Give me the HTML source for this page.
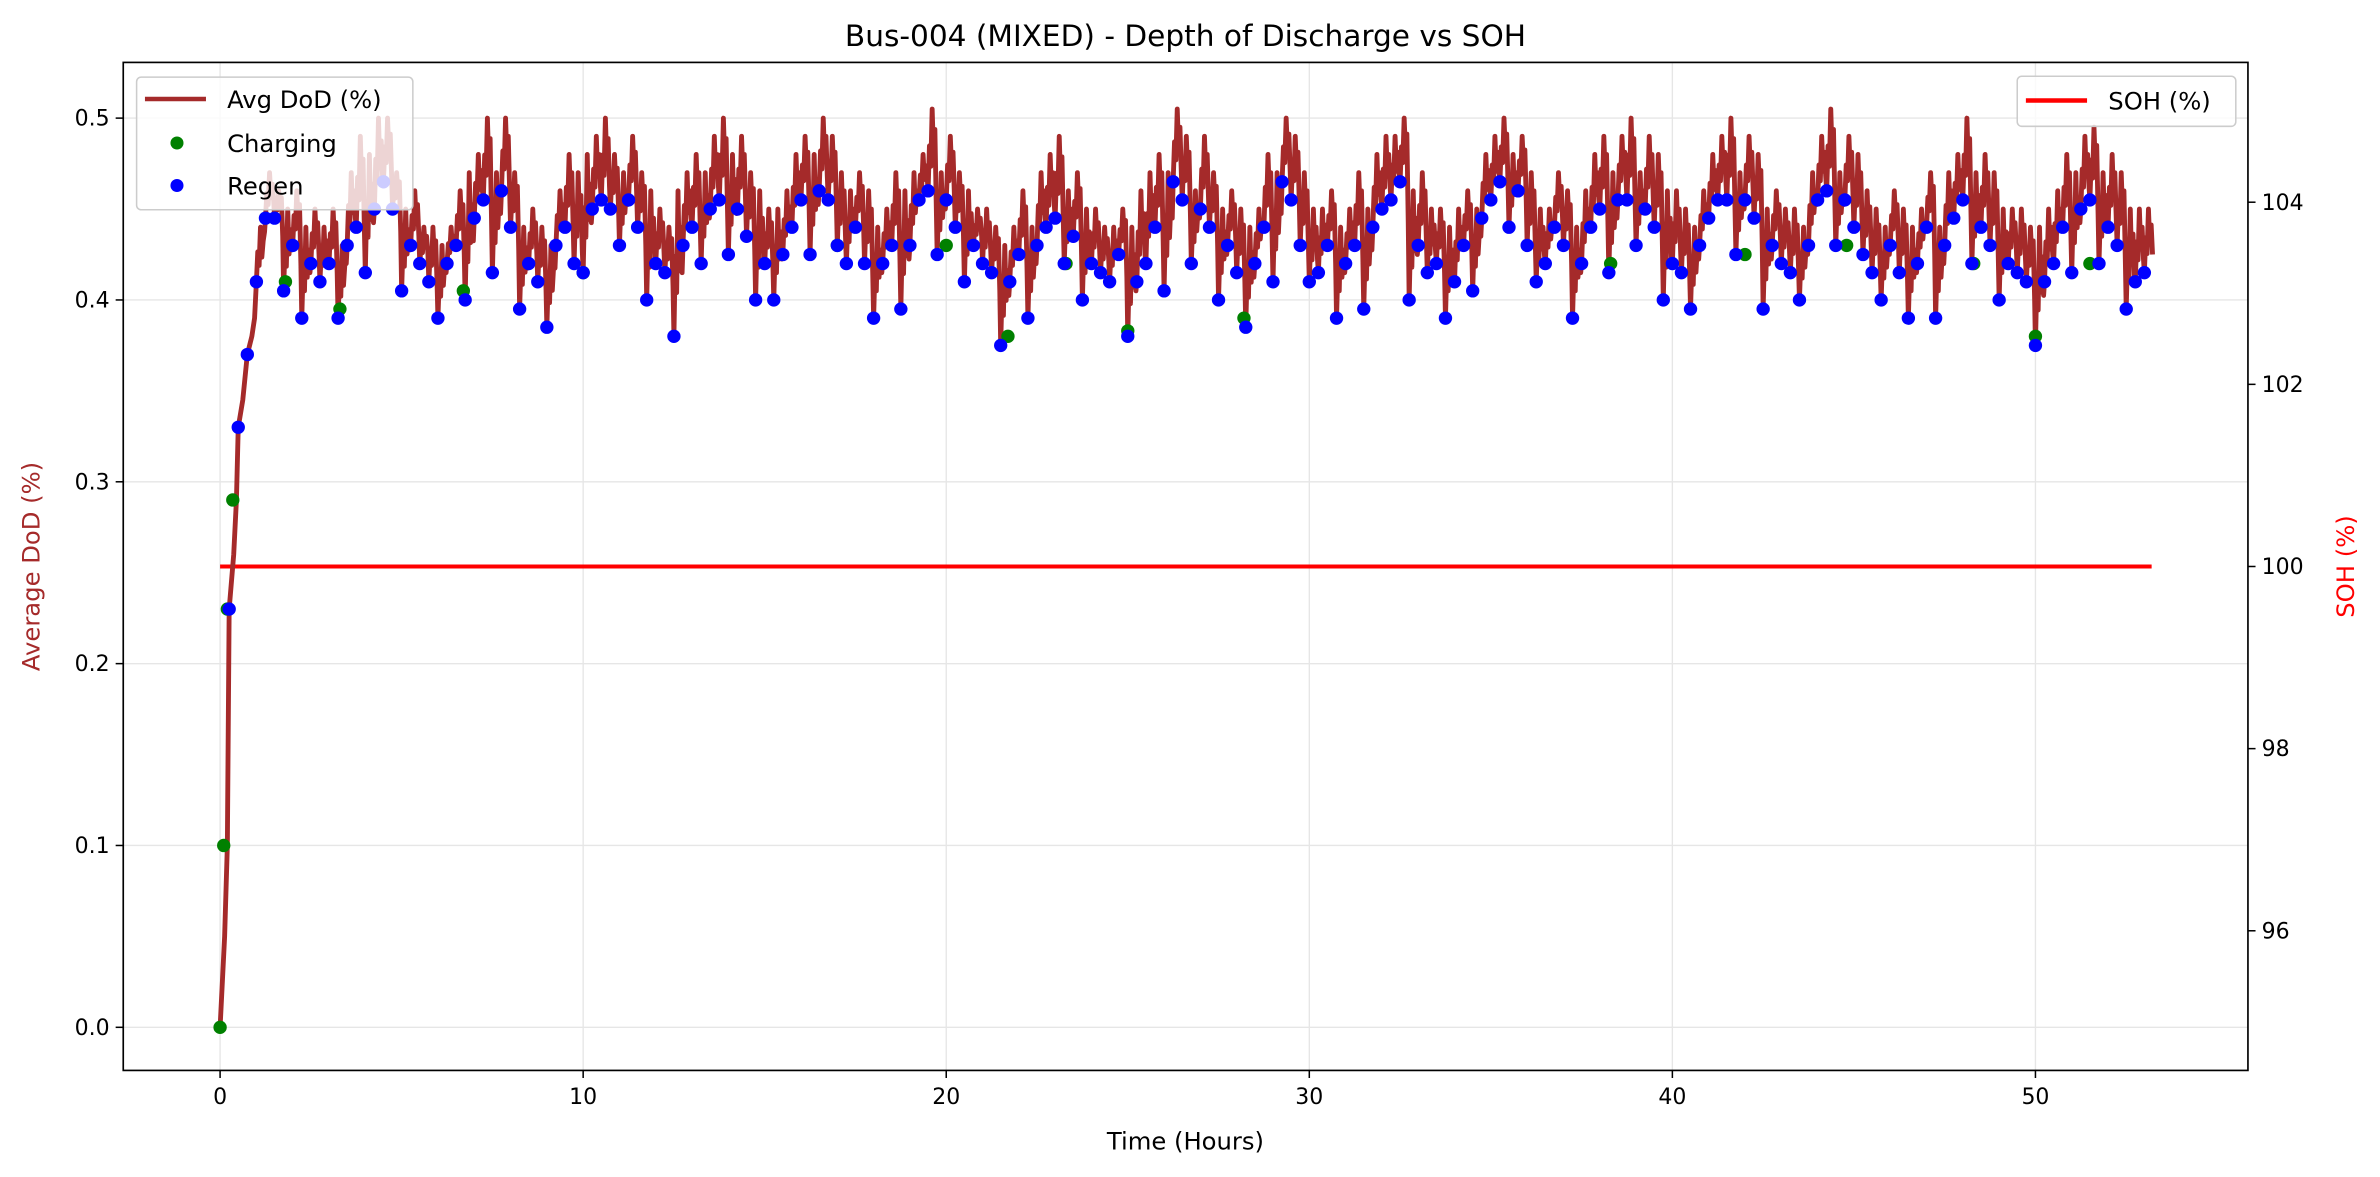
<!DOCTYPE html>
<html><head><meta charset="utf-8"><style>
html,body{margin:0;padding:0;background:#fff;}
svg{display:block;font-family:"DejaVu Sans","Liberation Sans",sans-serif;}
</style></head><body>
<svg id="chart" width="2380" height="1177" viewBox="0 0 1568 775" xmlns="http://www.w3.org/2000/svg">
<rect x="0" y="0" width="1568" height="775" fill="#fff"/>
<g id="grid"></g>
<g id="soh"></g>
<g id="dod"></g>
<g id="chg"></g>
<g id="reg"></g>
<rect x="81.2" y="40.9" width="1399.8" height="664.1" fill="none" stroke="#000" stroke-width="1.1"/>
<g id="axes"></g>
<text x="781" y="30" font-size="19.5" text-anchor="middle">Bus-004 (MIXED) - Depth of Discharge vs SOH</text>
<text x="781" y="757" font-size="16" text-anchor="middle">Time (Hours)</text>
<text transform="translate(26,373) rotate(-90)" font-size="16" text-anchor="middle" fill="#a52a2a">Average DoD (%)</text>
<text transform="translate(1551,373) rotate(-90)" font-size="16" text-anchor="middle" fill="#ff0000">SOH (%)</text>
<g id="leftLegend">
<rect x="90" y="50.6" width="182" height="87.4" rx="3" fill="#fff" fill-opacity="0.8" stroke="#ccc" stroke-width="1"/>
<line x1="95.5" y1="65" x2="135.7" y2="65" stroke="#a52a2a" stroke-width="3"/>
<text x="149.6" y="71" font-size="16">Avg DoD (%)</text>
<circle cx="116.6" cy="94" r="4.3" fill="#008000"/>
<text x="149.6" y="100" font-size="16">Charging</text>
<circle cx="116.6" cy="122" r="4.3" fill="#0000ff"/>
<text x="149.6" y="128" font-size="16">Regen</text>
</g>
<g id="rightLegend">
<rect x="1329" y="50" width="144" height="33" rx="3" fill="#fff" fill-opacity="0.8" stroke="#ccc" stroke-width="1"/>
<line x1="1334.7" y1="66" x2="1375" y2="66" stroke="#ff0000" stroke-width="3"/>
<text x="1389" y="72" font-size="16">SOH (%)</text>
</g>
</svg>
<script>
const dodTimesStep = 0.25;
const regenValues = [
0.00,0.23,0.33,0.37, 0.41,0.445,0.445,0.405, 0.43,0.39,0.42,0.41, 0.42,0.39,0.43,0.44,
0.415,0.45,0.465,0.45, 0.405,0.43,0.42,0.41, 0.39,0.42,0.43,0.40, 0.445,0.455,0.415,0.46,
0.44,0.395,0.42,0.41, 0.385,0.43,0.44,0.42, 0.415,0.45,0.455,0.45, 0.43,0.455,0.44,0.40,
0.42,0.415,0.38,0.43, 0.44,0.42,0.45,0.455, 0.425,0.45,0.435,0.40, 0.42,0.40,0.425,0.44,
0.455,0.425,0.46,0.455, 0.43,0.42,0.44,0.42, 0.39,0.42,0.43,0.395, 0.43,0.455,0.46,0.425,
0.455,0.44,0.41,0.43, 0.42,0.415,0.375,0.41, 0.425,0.39,0.43,0.44, 0.445,0.42,0.435,0.40,
0.42,0.415,0.41,0.425, 0.38,0.41,0.42,0.44, 0.405,0.465,0.455,0.42, 0.45,0.44,0.40,0.43,
0.415,0.385,0.42,0.44, 0.41,0.465,0.455,0.43, 0.41,0.415,0.43,0.39, 0.42,0.43,0.395,0.44,
0.45,0.455,0.465,0.40, 0.43,0.415,0.42,0.39, 0.41,0.43,0.405,0.445, 0.455,0.465,0.44,0.46,
0.43,0.41,0.42,0.44, 0.43,0.39,0.42,0.44, 0.45,0.415,0.455,0.455, 0.43,0.45,0.44,0.40,
0.42,0.415,0.395,0.43, 0.445,0.455,0.455,0.425, 0.455,0.445,0.395,0.43, 0.42,0.415,0.40,0.43,
0.455,0.46,0.43,0.455, 0.44,0.425,0.415,0.40, 0.43,0.415,0.39,0.42, 0.44,0.39,0.43,0.445,
0.455,0.42,0.44,0.43, 0.40,0.42,0.415,0.41, 0.375,0.41,0.42,0.44, 0.415,0.45,0.455,0.42,
0.44,0.43,0.395,0.41, 0.415];
const peakValues = [
0.10,0.29,0.36,0.39, 0.44,0.47,0.46,0.45, 0.46,0.44,0.45,0.44, 0.45,0.43,0.47,0.49,
0.48,0.50,0.50,0.47, 0.45,0.46,0.44,0.44, 0.43,0.44,0.46,0.47, 0.48,0.50,0.47,0.50,
0.47,0.44,0.45,0.44, 0.43,0.46,0.48,0.47, 0.48,0.49,0.50,0.48, 0.47,0.49,0.47,0.46,
0.45,0.44,0.46,0.47, 0.48,0.47,0.49,0.50, 0.48,0.49,0.47,0.46, 0.45,0.45,0.46,0.48,
0.49,0.48,0.50,0.49, 0.47,0.46,0.47,0.46, 0.44,0.45,0.47,0.46, 0.47,0.48,0.505,0.47,
0.49,0.47,0.46,0.45, 0.45,0.44,0.43,0.44, 0.46,0.44,0.47,0.48, 0.49,0.46,0.47,0.45,
0.45,0.44,0.44,0.45, 0.44,0.46,0.47,0.48, 0.47,0.505,0.49,0.46, 0.49,0.47,0.45,0.46,
0.45,0.44,0.45,0.48, 0.47,0.50,0.49,0.47, 0.45,0.45,0.46,0.44, 0.45,0.47,0.45,0.48,
0.49,0.49,0.50,0.46, 0.47,0.45,0.45,0.44, 0.45,0.46,0.45,0.48, 0.49,0.50,0.48,0.49,
0.47,0.45,0.45,0.47, 0.46,0.44,0.46,0.48, 0.49,0.47,0.49,0.50, 0.47,0.49,0.48,0.46,
0.46,0.45,0.44,0.46, 0.48,0.49,0.50,0.47, 0.49,0.48,0.45,0.46, 0.45,0.45,0.44,0.47,
0.49,0.505,0.47,0.49, 0.48,0.46,0.45,0.44, 0.46,0.45,0.44,0.45, 0.47,0.44,0.47,0.48,
0.50,0.47,0.48,0.47, 0.45,0.45,0.45,0.44, 0.44,0.45,0.46,0.48, 0.47,0.49,0.495,0.47,
0.48,0.47,0.45,0.45, 0.45];
const chargingTimes = [0,0.1,0.2,0.35,1.8,3.3,6.7,10,17,20,21.7,23.3,25,28.2,38.3,42,44.8,48.3,50,51.5];
const chargingValues = [0.0,0.10,0.23,0.29,0.41,0.395,0.405,0.415,0.43,0.43,0.38,0.42,0.383,0.39,0.42,0.425,0.43,0.42,0.38,0.42];
const sohTimes = [0, 53.2];
const sohValues = [100, 100];
const xTicks = [0,10,20,30,40,50];
const yLeftTicks = [0.0,0.1,0.2,0.3,0.4,0.5];
const yRightTicks = [96,98,100,102,104];

const NS="http://www.w3.org/2000/svg";
const X0=81.2,X1=1481,Y0=40.9,Y1=705;
const xs=t=>145+(t-0)*(1341-145)/50;
const yl=v=>676.6-v*1198;
const yr=v=>373-(v-100)*60;
function mk(tag,attrs,parent){const e=document.createElementNS(NS,tag);for(const k in attrs)e.setAttribute(k,attrs[k]);parent.appendChild(e);return e;}
const grid=document.getElementById('grid'),axes=document.getElementById('axes');
xTicks.forEach(t=>{
  const g=mk('line',{x1:xs(t),x2:xs(t),y1:Y0,y2:Y1,stroke:'#e6e6e6','stroke-width':0.9},grid);
  
  
  const tk=mk('line',{x1:xs(t),x2:xs(t),y1:Y1,y2:Y1+5,stroke:'#000','stroke-width':1},axes);
  
  
  const lb=mk('text',{x:xs(t),y:Y1+22,'font-size':14.5,'text-anchor':'middle'},axes);
  lb.textContent=String(t);
  
  
});
yLeftTicks.forEach(v=>{
  const g=mk('line',{x1:X0,x2:X1,y1:yl(v),y2:yl(v),stroke:'#e6e6e6','stroke-width':0.9},grid);
  
  
  const tk=mk('line',{x1:X0-5,x2:X0,y1:yl(v),y2:yl(v),stroke:'#000','stroke-width':1},axes);
  
  
  const lb=mk('text',{x:X0-9,y:yl(v)+5,'font-size':14.5,'text-anchor':'end'},axes);
  lb.textContent=v.toFixed(1);
  
  
});
yRightTicks.forEach(v=>{
  const tk=mk('line',{x1:X1,x2:X1+5,y1:yr(v),y2:yr(v),stroke:'#000','stroke-width':1},axes);
  
  
  const lb=mk('text',{x:X1+9,y:yr(v)+5,'font-size':14.5,'text-anchor':'start'},axes);
  lb.textContent=String(v);
  
  
});
const sohPts=sohTimes.map((t,i)=>xs(t)+','+yr(sohValues[i])).join(' ');
const sl=mk('polyline',{points:sohPts,fill:'none',stroke:'#ff0000','stroke-width':2.6},document.getElementById('soh'));


let pts=[];
regenValues.forEach((v,i)=>{
  const t=i*dodTimesStep, p=peakValues[i], s=dodTimesStep;
  const nxt = (i+1 < regenValues.length) ? regenValues[i+1] : v;
  pts.push(xs(t)+','+yl(v));
  if(i < 4){pts.push(xs(t+s*0.5)+','+yl((v+p)/2));pts.push(xs(t+s*0.8)+','+yl(p));return;}
  pts.push(xs(t+s*0.15)+','+yl(v+(p-v)*0.55));
  pts.push(xs(t+s*0.3)+','+yl(v+(p-v)*0.3));
  pts.push(xs(t+s*0.45)+','+yl(p));
  pts.push(xs(t+s*0.6)+','+yl(v+(p-v)*0.45));
  pts.push(xs(t+s*0.75)+','+yl(v+(p-v)*0.75));
  pts.push(xs(t+s*0.9)+','+yl((v+nxt)/2+0.01));
});
const dl=mk('polyline',{points:pts.join(' '),fill:'none',stroke:'#a52a2a','stroke-width':3.2,'stroke-linejoin':'round'},document.getElementById('dod'));


const cg=document.getElementById('chg');
chargingTimes.forEach((t,i)=>{
  const c=mk('circle',{cx:xs(t),cy:yl(chargingValues[i]),r:4.4,fill:'#008000'},cg);
  
  
});
const rg=document.getElementById('reg');
regenValues.forEach((v,i)=>{
  if(i < 1) return;
  const c=mk('circle',{cx:xs(i*dodTimesStep),cy:yl(v),r:4.4,fill:'#0000ff'},rg);
  
  
});
const svg=document.getElementById('chart');
svg.appendChild(document.getElementById('leftLegend'));
svg.appendChild(document.getElementById('rightLegend'));
</script>
</body></html>
